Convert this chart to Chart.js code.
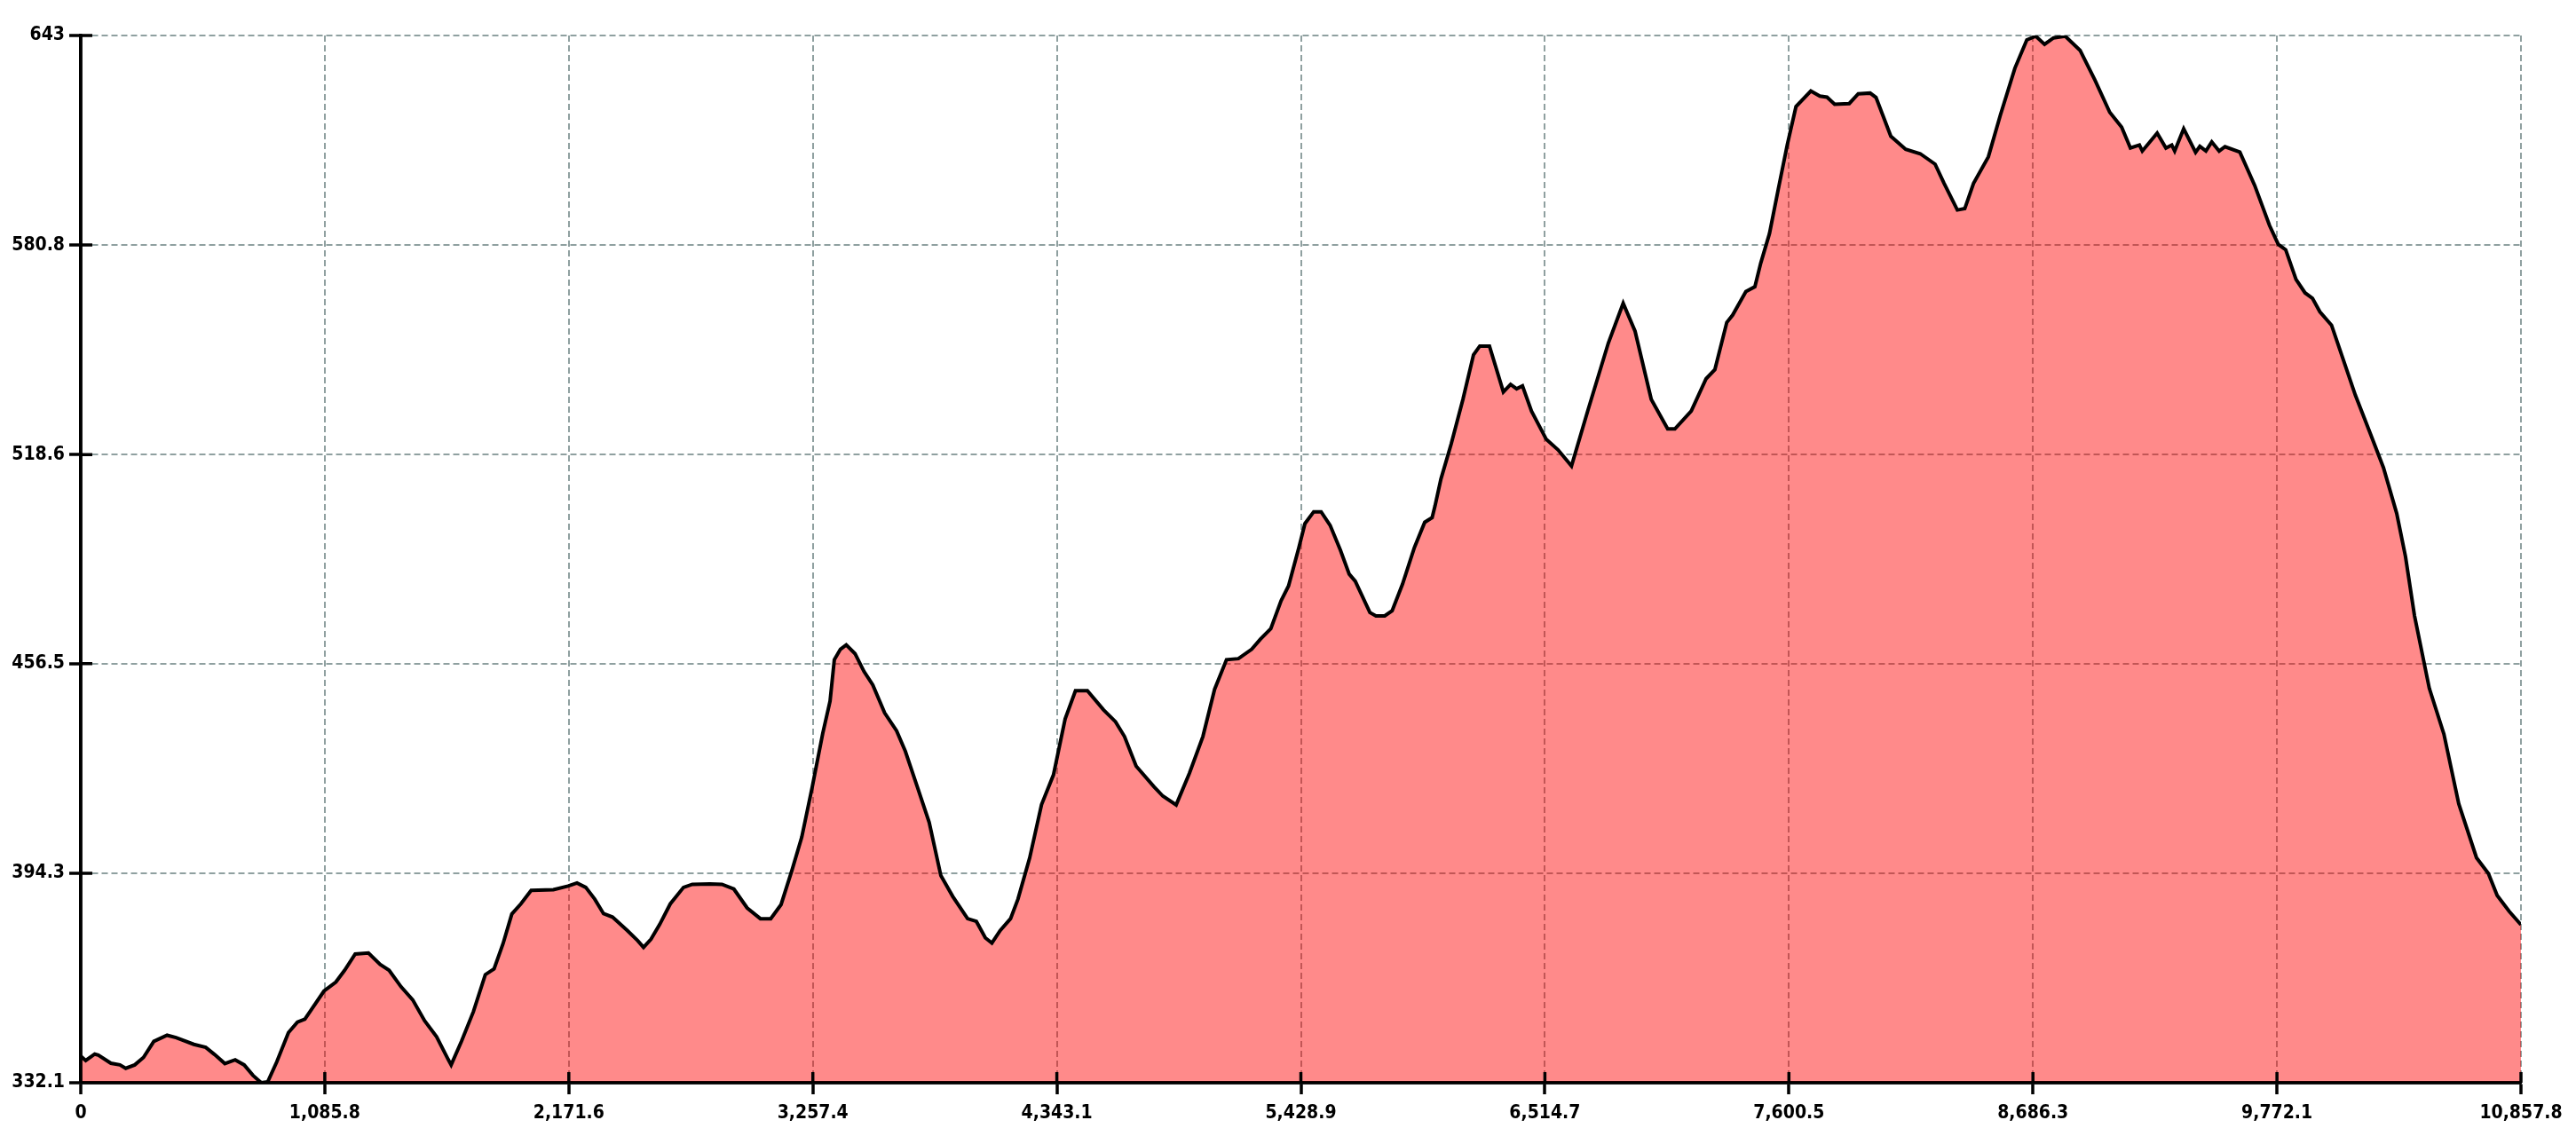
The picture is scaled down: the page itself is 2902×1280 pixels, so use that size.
<!DOCTYPE html>
<html>
<head>
<meta charset="utf-8">
<script src="https://cdn.jsdelivr.net/npm/chart.js@4.4.1/dist/chart.umd.min.js"></script>
<style>
    body { margin: 0; background: #fff; }
    #wrap { width: 2902px; height: 1280px; position: relative; }
</style>
</head>
<body>
<div id="wrap"><canvas id="profileChart"></canvas></div>
<script>
// distance along the route and elevation
const distances = [
    0, 22, 62, 78, 134, 174, 200, 240, 279, 325, 384, 424, 503, 556, 595, 641, 687, 727, 766, 803,
    832, 872, 924, 964, 997, 1082, 1135, 1174, 1221, 1280, 1332, 1372, 1425, 1477, 1530, 1583, 1635, 1648, 1694, 1747,
    1800, 1839, 1879, 1918, 1958, 2004, 2103, 2168, 2208, 2247, 2287, 2326, 2366, 2432, 2478, 2504, 2537, 2576, 2623, 2682,
    2721, 2800, 2853, 2906, 2965, 3024, 3070, 3116, 3165, 3208, 3255, 3301, 3334, 3353, 3380, 3406, 3445, 3485, 3524, 3577,
    3630, 3669, 3722, 3775, 3827, 3880, 3946, 3985, 4025, 4054, 4091, 4137, 4170, 4222, 4275, 4328, 4380, 4426, 4479, 4551,
    4604, 4644, 4696, 4775, 4815, 4874, 4933, 4993, 5045, 5098, 5151, 5210, 5249, 5295, 5341, 5374, 5420, 5447, 5486, 5519,
    5559, 5605, 5644, 5671, 5736, 5763, 5802, 5835, 5881, 5934, 5980, 6013, 6026, 6052, 6098, 6150, 6197, 6225, 6268, 6330,
    6362, 6389, 6415, 6455, 6521, 6573, 6633, 6705, 6797, 6863, 6916, 6988, 7061, 7093, 7166, 7232, 7271, 7324, 7350, 7409,
    7449, 7475, 7514, 7553, 7593, 7632, 7698, 7738, 7770, 7804, 7869, 7909, 7962, 7988, 8054, 8120, 8185, 8251, 8291, 8350,
    8383, 8422, 8488, 8541, 8606, 8659, 8699, 8738, 8778, 8830, 8896, 8962, 9028, 9081, 9120, 9160, 9173, 9239, 9278, 9304,
    9317, 9357, 9410, 9429, 9456, 9482, 9515, 9541, 9607, 9673, 9739, 9778, 9811, 9857, 9897, 9930, 9963, 10015, 10068, 10121,
    10186, 10246, 10305, 10344, 10384, 10450, 10515, 10581, 10660, 10713, 10752, 10805, 10857.8
];
const elevations = [
    340.0, 338.7, 340.6, 340.3, 337.9, 337.4, 336.4, 337.4, 339.6, 344.4, 346.2, 345.5, 343.5, 342.6, 340.5, 337.8, 338.9, 337.4, 334.3, 332.1,
    332.4, 338.3, 347.0, 350.1, 351.0, 359.3, 362.0, 365.5, 370.3, 370.6, 367.2, 365.5, 360.6, 356.7, 350.5, 345.8, 339.0, 337.4, 344.4, 353.2,
    364.2, 365.9, 373.4, 382.2, 385.2, 389.2, 389.4, 390.5, 391.4, 390.1, 386.6, 382.3, 381.3, 377.3, 374.3, 372.3, 374.7, 379.1, 385.2, 390.1,
    391.0, 391.1, 391.0, 389.6, 384.0, 380.8, 380.8, 385.0, 395.3, 405.0, 420.0, 435.7, 445.4, 457.7, 460.8, 462.1, 459.5, 454.2, 450.2, 441.9,
    436.6, 430.5, 420.0, 409.4, 393.6, 387.4, 380.8, 380.0, 375.1, 373.6, 377.3, 380.8, 386.6, 398.8, 414.7, 423.5, 440.1, 448.5, 448.5, 442.8,
    439.3, 434.9, 426.1, 420.0, 417.2, 414.6, 424.0, 434.9, 448.9, 457.7, 458.0, 460.8, 463.8, 466.9, 475.2, 479.6, 491.0, 498.1, 501.6, 501.6,
    497.6, 490.2, 483.1, 481.0, 471.7, 470.7, 470.7, 472.2, 480.1, 491.0, 498.5, 499.9, 503.4, 511.3, 521.8, 535.0, 548.2, 550.8, 550.8, 537.2,
    539.4, 538.1, 539.0, 531.5, 523.1, 520.0, 515.2, 531.5, 551.7, 563.5, 555.2, 535.0, 526.2, 526.2, 531.5, 541.1, 543.8, 557.8, 560.0, 567.0,
    568.4, 575.4, 584.2, 597.3, 610.5, 621.9, 626.5, 625.0, 624.7, 622.6, 622.8, 625.7, 625.9, 624.6, 613.1, 609.2, 607.9, 604.8, 599.1, 591.2,
    591.6, 599.1, 607.0, 619.3, 633.3, 641.7, 642.8, 640.4, 642.3, 642.8, 638.6, 629.8, 620.2, 615.8, 609.6, 610.5, 608.7, 614.0, 609.6, 610.5,
    608.7, 615.3, 608.3, 610.1, 608.7, 611.4, 608.7, 610.0, 608.4, 598.5, 586.6, 581.0, 579.4, 570.6, 566.6, 565.0, 561.0, 557.0, 546.6, 536.2,
    525.1, 514.7, 501.1, 488.3, 470.8, 449.2, 435.6, 414.9, 398.9, 394.2, 387.7, 383.0, 379.0
];

const xTickValues = [0, 1085.8, 2171.6, 3257.4, 4343.1, 5428.9, 6514.7, 7600.5, 8686.3, 9772.1, 10857.8];
const xTickLabels = ['0', '1,085.8', '2,171.6', '3,257.4', '4,343.1', '5,428.9', '6,514.7', '7,600.5', '8,686.3', '9,772.1', '10,857.8'];
const yTickValues = [332.1, 394.3, 456.5, 518.6, 580.8, 643];
const yTickLabels = ['332.1', '394.3', '456.5', '518.6', '580.8', '643'];

const points = distances.map((d, i) => ({ x: d, y: elevations[i] }));

// solid axis lines and the short tick stubs inside the plot, drawn over the fill
const axisOverlay = {
    id: 'axisOverlay',
    afterDatasetsDraw(chart) {
        const { ctx, chartArea, scales } = chart;
        ctx.save();
        ctx.strokeStyle = '#000';
        ctx.lineWidth = 3.5;
        ctx.beginPath();
        ctx.moveTo(chartArea.left, chartArea.top);
        ctx.lineTo(chartArea.left, chartArea.bottom);
        ctx.lineTo(chartArea.right, chartArea.bottom);
        xTickValues.forEach(v => {
            const px = scales.x.getPixelForValue(v);
            ctx.moveTo(px, chartArea.bottom);
            ctx.lineTo(px, chartArea.bottom - 12);
        });
        yTickValues.forEach(v => {
            const py = scales.y.getPixelForValue(v);
            ctx.moveTo(chartArea.left, py);
            ctx.lineTo(chartArea.left + 13, py);
        });
        ctx.stroke();
        ctx.restore();
    }
};

const tickFont = { family: '"DejaVu Sans Condensed", "DejaVu Sans", sans-serif', size: 21, weight: 'bold' };

const ctx = document.getElementById('profileChart').getContext('2d');
new Chart(ctx, {
    type: 'line',
    data: {
        datasets: [{
            data: points,
            borderColor: '#000',
            borderWidth: 4,
            backgroundColor: 'rgba(255, 0, 0, 0.46)',
            fill: 'start',
            pointRadius: 0,
            tension: 0
        }]
    },
    options: {
        responsive: true,
        maintainAspectRatio: false,
        animation: false,
        layout: {
            padding: { left: 0, right: 62, top: 40, bottom: 0 }
        },
        plugins: {
            legend: { display: false },
            tooltip: { enabled: false }
        },
        scales: {
            x: {
                type: 'linear',
                min: 0,
                max: 10857.8,
                afterBuildTicks: scale => { scale.ticks = xTickValues.map(v => ({ value: v })); },
                afterFit: scale => { scale.height = 60; },
                grid: {
                    color: '#8fa0a0',
                    lineWidth: 2,
                    tickLength: 13,
                    tickColor: '#000',
                    tickWidth: 3.5
                },
                border: { display: true, color: '#000', width: 3.5, dash: [7, 4] },
                ticks: {
                    color: '#000',
                    font: tickFont,
                    padding: 9,
                    maxRotation: 0,
                    autoSkip: false,
                    callback: (value, index) => xTickLabels[index]
                }
            },
            y: {
                type: 'linear',
                min: 332.1,
                max: 643,
                afterBuildTicks: scale => { scale.ticks = yTickValues.map(v => ({ value: v })); },
                afterFit: scale => { scale.width = 91; },
                grid: {
                    color: '#8fa0a0',
                    lineWidth: 2,
                    tickLength: 13,
                    tickColor: '#000',
                    tickWidth: 3.5
                },
                border: { display: true, color: '#000', width: 3.5, dash: [7, 4] },
                ticks: {
                    color: '#000',
                    font: tickFont,
                    padding: 5,
                    autoSkip: false,
                    callback: (value, index) => yTickLabels[index]
                }
            }
        }
    },
    plugins: [axisOverlay]
});
</script>
</body>
</html>
